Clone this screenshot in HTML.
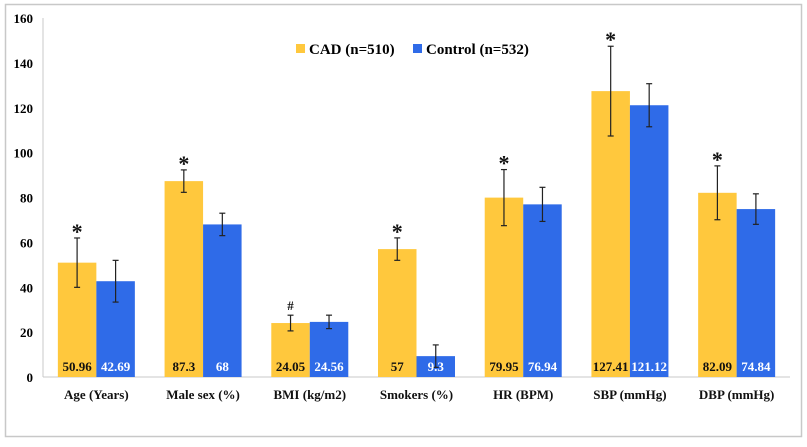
<!DOCTYPE html>
<html><head><meta charset="utf-8"><style>
body{margin:0;background:#fff;}
svg, svg text{font-family:"Liberation Serif","DejaVu Serif",serif;font-weight:bold;}
</style></head><body>
<svg id="chart" width="807" height="442">
<rect x="5.5" y="4.5" width="796" height="432" fill="#fff" stroke="#c8c8c8" stroke-width="1.5"/>
<g id="axes"></g><g id="bars"></g>
<g>
<rect x="296" y="44" width="9" height="9" fill="#FFC83D"/>
<text x="309" y="54" font-size="15" font-family="Liberation Serif, serif">CAD (n=510)</text>
<rect x="413" y="44" width="9" height="9" fill="#2F6BE8"/>
<text x="426" y="54" font-size="15" font-family="Liberation Serif, serif">Control (n=532)</text>
</g>
</svg>
<script>
const categories=["Age (Years)","Male sex (%)","BMI (kg/m2)","Smokers (%)","HR (BPM)","SBP (mmHg)","DBP (mmHg)"];
const cadValues=[50.96,87.3,24.05,57,79.95,127.41,82.09];
const controlValues=[42.69,68,24.56,9.3,76.94,121.12,74.84];
const cadErrors=[11,5,3.5,5,12.5,20,12];
const controlErrors=[9.3,5,3,5,7.6,9.6,6.8];
const cadMarkers=["*","*","#","*","*","*","*"];
const yTicks=[0,20,40,60,80,100,120,140,160];
const NS="http://www.w3.org/2000/svg";
const x0=43,x1=790,yBase=377,yTop=18,yMax=160;
const y=v=>yBase-(v/yMax)*(yBase-yTop);
const gw=(x1-x0)/categories.length, bw=38.5;
const ax=document.getElementById('axes'), bars=document.getElementById('bars');
function mk(tag,attrs,parent,txt){const e=document.createElementNS(NS,tag);for(const k in attrs)e.setAttribute(k,attrs[k]);if(tag==='text'){e.setAttribute('font-family','Liberation Serif, serif');e.setAttribute('font-weight','bold');}if(txt!==undefined)e.textContent=txt;parent.appendChild(e);return e;}
let e=mk('line',{x1:x0,x2:x0,y1:yTop,y2:yBase,stroke:'#c8c8c8','stroke-width':1},ax);


e=mk('line',{x1:x0,x2:x1,y1:yBase,y2:yBase,stroke:'#c8c8c8','stroke-width':1},ax);


yTicks.forEach(t=>{const el=mk('text',{x:33,y:y(t)+5,'text-anchor':'end','font-size':13},ax,t);

});
function errBar(cx,v,er,name){const g=mk('g',{stroke:'#222','stroke-width':1.2},bars);


mk('line',{x1:cx,x2:cx,y1:y(v+er),y2:y(v-er)},g);mk('line',{x1:cx-3,x2:cx+3,y1:y(v+er),y2:y(v+er)},g);mk('line',{x1:cx-3,x2:cx+3,y1:y(v-er),y2:y(v-er)},g);}
categories.forEach((c,i)=>{
 const cx=x0+gw*(i+0.5);
 const cadX=cx-bw, conX=cx;
 let r=mk('rect',{x:cadX,y:y(cadValues[i]),width:bw,height:yBase-y(cadValues[i]),fill:'#FFC83D'},bars);
 
 
 r=mk('rect',{x:conX,y:y(controlValues[i]),width:bw,height:yBase-y(controlValues[i]),fill:'#2F6BE8'},bars);
 
 
 errBar(cadX+bw/2,cadValues[i],cadErrors[i],'error-bar-cad');
 errBar(conX+bw/2,controlValues[i],controlErrors[i],'error-bar-control');
 let t=mk('text',{x:cadX+bw/2,y:371,'text-anchor':'middle','font-size':13,fill:'#111'},bars,cadValues[i]);
 
 
 t=mk('text',{x:conX+bw/2,y:371,'text-anchor':'middle','font-size':13,fill:'#fff'},bars,controlValues[i]);
 
 
 const star=cadMarkers[i]==='*';
 t=mk('text',{x:cadX+bw/2,y:y(cadValues[i]+cadErrors[i])-(star?-1:5),'text-anchor':'middle','font-size':star?22:13,fill:'#111'},bars,cadMarkers[i]);
 
 
 t=mk('text',{x:cx,y:399,'text-anchor':'middle','font-size':13,fill:'#111'},ax,c);
 
 
});
</script>
</body></html>
